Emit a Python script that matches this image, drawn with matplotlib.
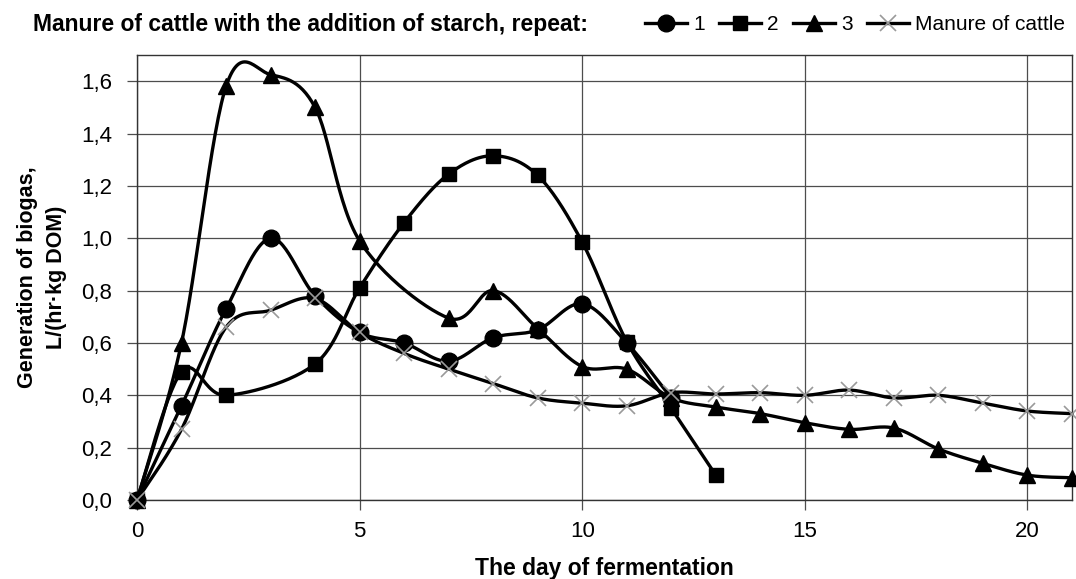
import numpy as np
import matplotlib
matplotlib.use("Agg")
import matplotlib.pyplot as plt
from matplotlib.lines import Line2D
from matplotlib.ticker import FuncFormatter, MultipleLocator

plt.rcParams["font.family"] = ["Liberation Sans", "DejaVu Sans"]

# days of fermentation
days = list(range(22))

# biogas generation, L/(hr*kg DOM); None = no point in the chart
repeat_1 = [0.0, 0.36, 0.73, 1.00, 0.78, 0.64, 0.60, 0.53, 0.62, 0.65, 0.75, 0.60, 0.39]
repeat_2 = [0.0, 0.49, 0.40, None, 0.52, 0.81, 1.06, 1.245, 1.315, 1.24, 0.985, 0.605, 0.35, 0.095]
repeat_3 = [0.0, 0.60, 1.58, 1.625, 1.50, 0.99, None, 0.695, 0.80, 0.655, 0.51, 0.50, 0.39,
            0.355, 0.33, 0.295, 0.27, 0.275, 0.195, 0.14, 0.095, 0.085]
manure = [0.0, 0.27, 0.66, 0.725, 0.77, 0.64, 0.56, 0.50, 0.445, 0.39, 0.37, 0.36, 0.41,
          0.405, 0.41, 0.40, 0.42, 0.39, 0.40, 0.37, 0.34, 0.33]

labels = ["1", "2", "3", "Manure of cattle"]


def smooth(xs, ys, n=30):
    # excel-like smoothed line: bezier segments through the points
    pts = np.array([(x, y) for x, y in zip(xs, ys) if y is not None], dtype=float)
    out = []
    for i in range(len(pts) - 1):
        p0 = pts[max(i - 1, 0)]
        p1 = pts[i]
        p2 = pts[i + 1]
        p3 = pts[min(i + 2, len(pts) - 1)]
        c1 = p1 + (p2 - p0) / 6
        c2 = p2 - (p3 - p1) / 6
        t = np.linspace(0, 1, n)[:, None]
        seg = ((1 - t) ** 3) * p1 + 3 * ((1 - t) ** 2) * t * c1 + 3 * (1 - t) * t ** 2 * c2 + t ** 3 * p2
        out.append(seg)
    seg = np.vstack(out)
    return seg[:, 0], seg[:, 1], pts


fig = plt.figure(figsize=(10.76, 5.79), dpi=100)
ax = fig.add_axes([0.1273, 0.1364, 0.869, 0.7686])

styles = [
    dict(marker="o", ms=12, mfc="black", mec="black"),
    dict(marker="s", ms=10.5, mfc="black", mec="black"),
    dict(marker="^", ms=12, mfc="black", mec="black"),
    dict(marker="x", ms=12, mfc="none", mec="#9a9a9a", mew=1.2),
]

for series, st in zip([repeat_1, repeat_2, repeat_3, manure], styles):
    sx, sy, pts = smooth(days[:len(series)], series)
    ax.plot(sx, sy, color="black", lw=2.4, clip_on=False, zorder=3)
    ax.plot(pts[:, 0], pts[:, 1], ls="none", clip_on=False, zorder=4, **st)

ax.set_xlim(0, 21)
ax.set_ylim(0, 1.7)
ax.xaxis.set_major_locator(MultipleLocator(5))
ax.yaxis.set_major_locator(MultipleLocator(0.2))
ax.yaxis.set_major_formatter(FuncFormatter(lambda v, p: f"{v:.1f}".replace(".", ",")))
ax.grid(True, color="0.3", lw=0.9)
ax.set_axisbelow(True)
ax.tick_params(direction="out", length=7, width=0.9, color="0.3", labelsize=16)
ax.tick_params(axis="y", pad=11)
ax.tick_params(axis="x", pad=8)
for s in ax.spines.values():
    s.set_color("0.2")
    s.set_linewidth(1.0)

ax.set_xlabel("The day of fermentation", fontsize=16.5, fontweight="bold", va="center")
ax.xaxis.set_label_coords(0.5, -0.153)
ax.set_ylabel("Generation of biogas,\nL/(hr\u00b7kg DOM)", fontsize=15.5, fontweight="bold",
              va="center", linespacing=1.5)
ax.yaxis.set_label_coords(-0.1016, 0.5)

fig.text(0.031, 0.957, "Manure of cattle with the addition of starch, repeat:",
         fontsize=16.5, fontweight="bold", va="center", ha="left")

handles = [Line2D([], [], color="black", lw=2.4, **st) for st in styles]
fig.legend(handles, labels, ncol=4, frameon=False, loc="center right",
           bbox_to_anchor=(0.99, 0.957), fontsize=15, handlelength=2.0,
           handletextpad=0.3, columnspacing=0.7, borderaxespad=0.0, borderpad=0.0)

fig.savefig("out.png", dpi=100)
